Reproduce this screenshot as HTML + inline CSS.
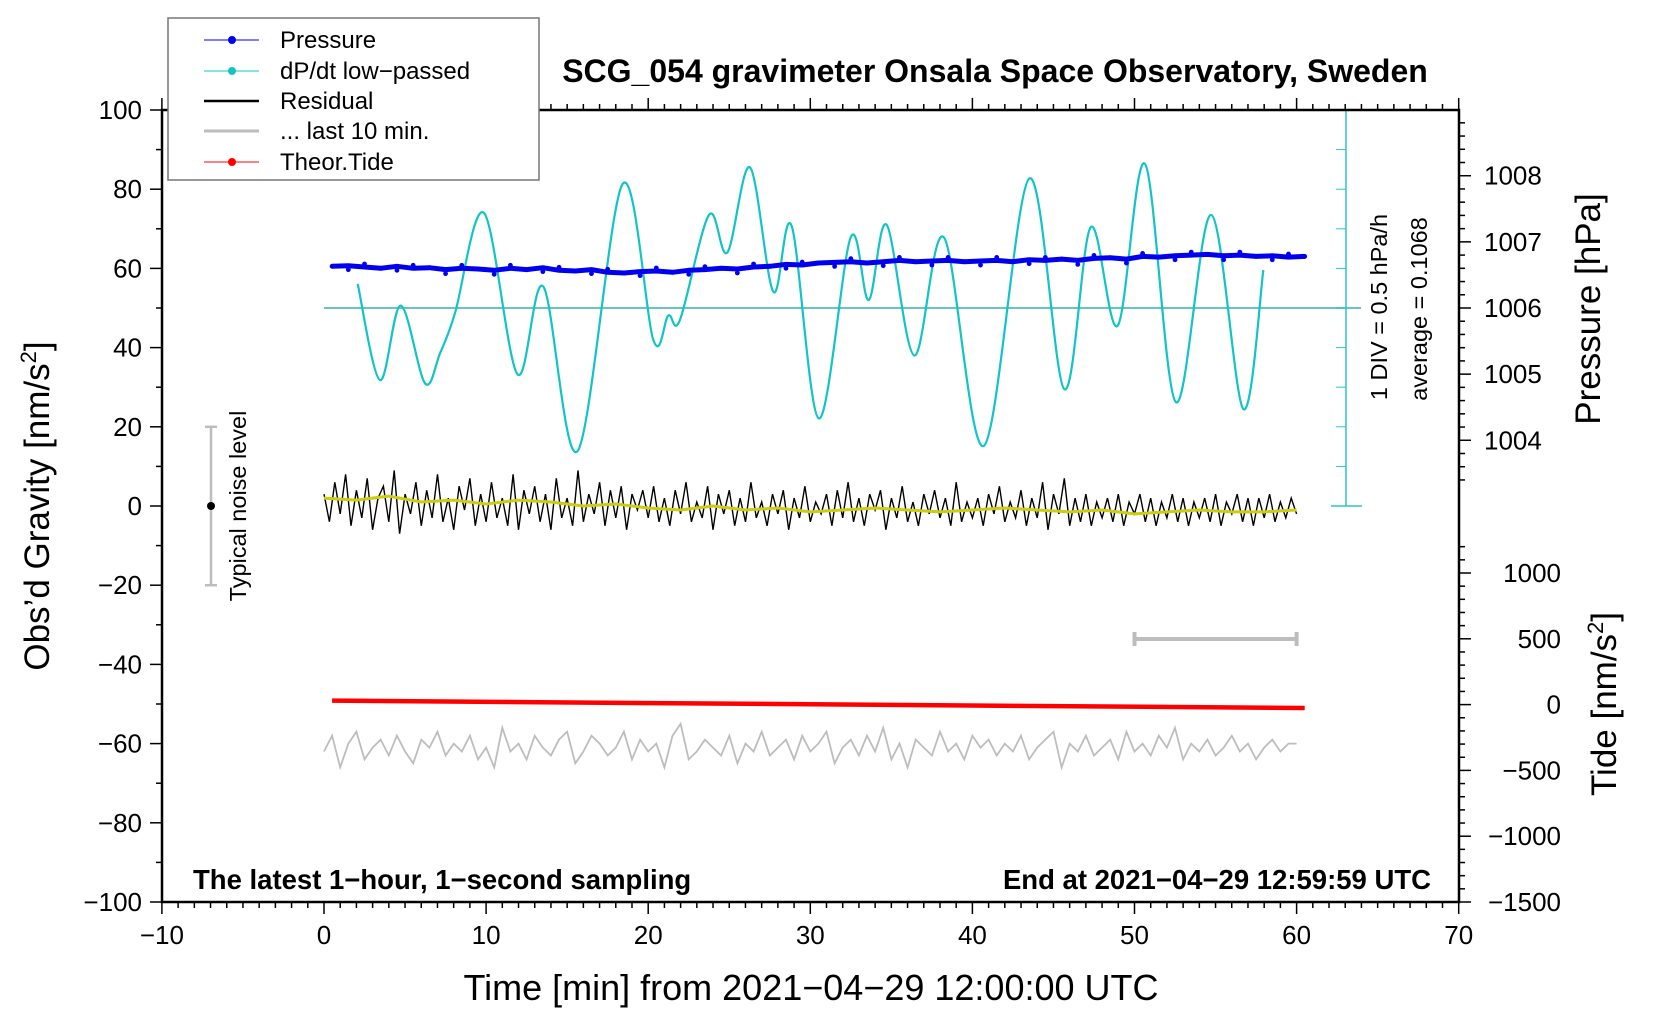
<!DOCTYPE html>
<html><head><meta charset="utf-8"><style>
html,body{margin:0;padding:0;background:#fff}
svg{display:block;font-family:"Liberation Sans",Arial,sans-serif}
</style></head><body>
<svg id="chart" width="1660" height="1020" viewBox="0 0 1660 1020" xmlns="http://www.w3.org/2000/svg">
<g id="layer"></g>
</svg>
<script>
// ---------- data ----------
const cyanT = [2.08,3.45,4.73,6.23,7.16,8.08,9.87,11.93,13.53,15.65,18.42,20.32,21.24,21.96,23.75,24.88,26.28,27.72,28.85,30.54,32.49,33.6,34.71,36.42,38.25,40.71,43.51,45.67,47.3,48.96,50.65,52.56,54.72,56.71,57.95];
const cyanG = [56.1,31.8,50.6,31.0,38.6,48.7,74.0,33.3,55.4,13.9,81.3,41.9,48.1,47.0,73.5,64.0,85.5,54.1,70.7,22.1,67.8,52,71.0,38.0,67.8,15.2,82.7,29.5,70.4,45.5,86.4,26.2,73.5,24.5,59.6];
const pressureHpa = [1006.63,1006.64,1006.62,1006.6,1006.63,1006.6,1006.61,1006.58,1006.6,1006.59,1006.57,1006.6,1006.58,1006.61,1006.57,1006.56,1006.58,1006.54,1006.53,1006.55,1006.56,1006.54,1006.57,1006.58,1006.6,1006.59,1006.62,1006.63,1006.66,1006.65,1006.68,1006.69,1006.7,1006.68,1006.7,1006.72,1006.7,1006.71,1006.72,1006.7,1006.71,1006.72,1006.7,1006.73,1006.72,1006.74,1006.72,1006.75,1006.76,1006.74,1006.78,1006.77,1006.79,1006.8,1006.81,1006.79,1006.8,1006.78,1006.79,1006.77,1006.78];
const residual = [3,-4,6,-2,8,-5,4,-3,7,-6,2,5,-4,9,-7,3,-2,6,-5,4,-3,8,-4,2,-6,5,-1,7,-5,3,-4,6,-3,2,-5,8,-6,4,-2,5,-4,3,-6,7,-3,2,-5,9,-4,3,-2,6,-5,4,-3,5,-6,3,-1,4,
-3,5,-4,2,-5,4,-2,6,-4,1,-3,5,-6,3,-2,4,-5,2,-4,6,-3,1,-5,3,-2,4,-6,2,-3,5,-4,1,-2,3,-5,4,-3,6,-4,2,-5,3,-1,4,-6,2,-3,5,-4,1,-5,3,-2,4,-3,2,-5,6,-4,1,
-3,2,-5,3,-2,5,-4,1,-3,4,-5,2,-3,6,-6,3,-2,7,-5,2,-4,3,-5,1,-3,2,-4,3,-5,1,-2,3,-4,2,-5,1,-3,3,-4,2,-5,1,-3,2,-4,3,-5,1,-2,3,-4,2,-5,2,-3,3,-4,1,-3,2,-2];
const smoothRes = [2,1.5,2.5,1,1.5,0.5,1.5,1,0,0.5,-0.5,-1,0,-1,-0.5,-1.5,-1,-0.5,-1,-1.5,-1,-0.5,-1,-1.5,-1,-2,-1.5,-1,-1.5,-1.5,-1];
const lastTen = [-62,-58,-66,-60,-57,-64,-61,-59,-63,-58,-62,-65,-59,-61,-57,-63,-60,-62,-58,-64,-61,-66,-56,-62,-60,-64,-58,-61,-63,-59,-57,-65,-62,-58,-60,-63,-61,-57,-64,-59,-62,-60,-66,-58,-55,-64,-62,-59,-61,-63,-58,-65,-60,-62,-57,-63,-61,-59,-64,-58,-62,-60,-57,-65,-61,-59,-63,-58,-62,-56,-64,-60,-66,-59,-61,-63,-57,-62,-60,-64,-58,-61,-59,-63,-60,-62,-58,-64,-61,-59,-57,-66,-60,-62,-58,-63,-61,-59,-64,-57,-62,-60,-63,-58,-61,-56,-64,-60,-62,-59,-63,-61,-58,-62,-60,-64,-61,-59,-62,-60,-60];
const tideT = [0.5,60.5];
const tideV = [30,-26];
const xTicks = [-10,0,10,20,30,40,50,60,70];
const yTicks = [100,80,60,40,20,0,-20,-40,-60,-80,-100];
const pTicks = [1004,1005,1006,1007,1008];
const tTicks = [1000,500,0,-500,-1000,-1500];

// ---------- scales ----------
const X = t => 324 + t*16.21;
const Y = g => 110 + (100-g)*3.96;
const YP = p => Y(50 + (p-1006)*16.7);
const YT = v => 704.6 - v*0.1316;
const NS = 'http://www.w3.org/2000/svg';
const layer = document.getElementById('layer');
function mk(tag, attrs, parent){
  const e = document.createElementNS(NS, tag);
  for (const k in attrs) e.setAttribute(k, attrs[k]);
  (parent||layer).appendChild(e); return e;
}
const fmt = v => String(v).replace('-', '\u2212');
function smoothPath(pts){
  let d = 'M'+pts[0][0]+','+pts[0][1];
  for (let i=0;i<pts.length-1;i++){
    const p0=pts[Math.max(0,i-1)], p1=pts[i], p2=pts[i+1], p3=pts[Math.min(pts.length-1,i+2)];
    const c1=[p1[0]+(p2[0]-p0[0])/6, p1[1]+(p2[1]-p0[1])/6];
    const c2=[p2[0]-(p3[0]-p1[0])/6, p2[1]-(p3[1]-p1[1])/6];
    d += ' C'+c1[0]+','+c1[1]+' '+c2[0]+','+c2[1]+' '+p2[0]+','+p2[1];
  }
  return d;
}
const poly = arr => arr.map(p=>p[0].toFixed(1)+','+p[1].toFixed(1)).join(' ');

// ---------- cyan dP/dt reference axis ----------
let e;
e = mk('line',{x1:X(0),y1:Y(50),x2:1361,y2:Y(50),stroke:'#6cc4c0','stroke-width':2});


e = mk('g',{});


mk('line',{x1:1346,y1:Y(100),x2:1346,y2:Y(0),stroke:'#2ec4c4','stroke-width':1.5},e);
mk('line',{x1:1331,y1:Y(0),x2:1362,y2:Y(0),stroke:'#2ec4c4','stroke-width':1.5},e);
mk('line',{x1:1331,y1:Y(100),x2:1362,y2:Y(100),stroke:'#2ec4c4','stroke-width':1.5},e);
for (let g=10; g<100; g+=10) mk('line',{x1:1336,y1:Y(g),x2:1346,y2:Y(g),stroke:'#2ec4c4','stroke-width':1},e);

// ---------- series ----------
const cyanPts = cyanT.map((t,i)=>[X(t),Y(cyanG[i])]);
e = mk('path',{d:smoothPath(cyanPts),fill:'none',stroke:'#12c4c4','stroke-width':2.2});



const pPts = pressureHpa.map((p,i)=>[X(0.5+i*60/(pressureHpa.length-1)), YP(p)]);
e = mk('polyline',{points:poly(pPts),fill:'none',stroke:'#0000ee','stroke-width':5,'stroke-linejoin':'round'});


pressureHpa.forEach((p,i)=>{
  const d = mk('circle',{cx:X(0.5+i*60/(pressureHpa.length-1)),cy:YP(p)+(i%3===1?4:(i%3===2?-3:0)),r:2.4,fill:'#0000ee'});
  
  
});

const rPts = residual.map((v,i)=>[X(i*60/(residual.length-1)), Y(v)]);
e = mk('polyline',{points:poly(rPts),fill:'none',stroke:'#000','stroke-width':1.4});


const sPts = smoothRes.map((v,i)=>[X(i*60/(smoothRes.length-1)), Y(v)]);
e = mk('polyline',{points:poly(sPts),fill:'none',stroke:'#cccc10','stroke-width':3});



const gPts = lastTen.map((v,i)=>[X(i*60/(lastTen.length-1)), Y(v)]);
e = mk('polyline',{points:poly(gPts),fill:'none',stroke:'#bdbdbd','stroke-width':1.8});



e = mk('line',{x1:X(tideT[0]),y1:YT(tideV[0]),x2:X(tideT[1]),y2:YT(tideV[1]),stroke:'#ff0000','stroke-width':4.5});



// scale bar last 10 min
e = mk('g',{stroke:'#bdbdbd','stroke-width':4});


mk('line',{x1:X(50),y1:639,x2:X(60),y2:639},e);
mk('line',{x1:X(50),y1:632,x2:X(50),y2:646},e);
mk('line',{x1:X(60),y1:632,x2:X(60),y2:646},e);

// noise bar
e = mk('g',{});


mk('line',{x1:211,y1:Y(20),x2:211,y2:Y(-20),stroke:'#bdbdbd','stroke-width':2.5},e);
mk('line',{x1:205,y1:Y(20),x2:217,y2:Y(20),stroke:'#bdbdbd','stroke-width':2.5},e);
mk('line',{x1:205,y1:Y(-20),x2:217,y2:Y(-20),stroke:'#bdbdbd','stroke-width':2.5},e);
mk('circle',{cx:211,cy:Y(0),r:4,fill:'#000'},e);

// ---------- axes frame & ticks ----------
e = mk('rect',{x:162,y:110,width:1297,height:792,fill:'none',stroke:'#000','stroke-width':2.5});


const tk = mk('g',{stroke:'#000','stroke-width':1.5});


for (let t=-10;t<=70;t++){
  const big = t%10===0;
  mk('line',{x1:X(t),y1:902,x2:X(t),y2:902+(big?12:6)},tk);
  mk('line',{x1:X(t),y1:110,x2:X(t),y2:110-(big?12:6)},tk);
}
for (let g=-100; g<=100; g+=10){
  const big = g%20===0;
  mk('line',{x1:162,y1:Y(g),x2:162-(big?12:6),y2:Y(g)},tk);
}
for (let v=-1500; v<=1200; v+=100){
  const y = YT(v); if (y<110) continue;
  mk('line',{x1:1459,y1:y,x2:1459+(v%500===0?12:6),y2:y},tk);
}
for (let p=1003.4; p<=1009.5; p+=0.2){
  const y = YP(p); if (y<110||y>YT(1200)) continue;
  const big = Math.abs(p-Math.round(p))<0.01;
  mk('line',{x1:1459,y1:y,x2:1459+(big?12:6),y2:y},tk);
}

// tick labels
xTicks.forEach(t=>{
  const l = mk('text',{x:X(t),y:944,'text-anchor':'middle','font-size':26});
  l.textContent = fmt(t);
  
  
});
yTicks.forEach(g=>{
  const l = mk('text',{x:142,y:Y(g)+9,'text-anchor':'end','font-size':26});
  l.textContent = fmt(g);
  
  
});
pTicks.forEach(p=>{
  const l = mk('text',{x:1484,y:YP(p)+9,'text-anchor':'start','font-size':26});
  l.textContent = fmt(p);
  
  
});
tTicks.forEach(v=>{
  const l = mk('text',{x:1561,y:YT(v)+9,'text-anchor':'end','font-size':26});
  l.textContent = fmt(v);
  
  
});
</script>
<svg width="1660" height="1020" style="position:absolute;left:0;top:0" xmlns="http://www.w3.org/2000/svg">
  <text x="995" y="82" text-anchor="middle" font-size="32" font-weight="bold">SCG_054 gravimeter Onsala Space Observatory, Sweden</text>
  <text x="193" y="889" font-size="27.5" font-weight="bold">The latest 1−hour, 1−second sampling</text>
  <text x="1431" y="889" text-anchor="end" font-size="27.5" font-weight="bold">End at 2021−04−29 12:59:59 UTC</text>
  <text x="811" y="1000" text-anchor="middle" font-size="36">Time [min] from 2021−04−29 12:00:00 UTC</text>
  <text transform="translate(49,506) rotate(-90)" text-anchor="middle" font-size="35">Obs’d Gravity [nm/s<tspan font-size="22" dy="-13">2</tspan><tspan dy="13">]</tspan></text>
  <text transform="translate(1600,309) rotate(-90)" text-anchor="middle" font-size="35">Pressure [hPa]</text>
  <text transform="translate(1616,704) rotate(-90)" text-anchor="middle" font-size="35">Tide [nm/s<tspan font-size="22" dy="-13">2</tspan><tspan dy="13">]</tspan></text>
  <text transform="translate(1387,307) rotate(-90)" text-anchor="middle" font-size="23.5">1 DIV = 0.5 hPa/h</text>
  <text transform="translate(1427,309) rotate(-90)" text-anchor="middle" font-size="23.5">average = 0.1068</text>
  <text transform="translate(246,506) rotate(-90)" text-anchor="middle" font-size="23.5">Typical noise level</text>
  <g>
    <rect x="168" y="18" width="371" height="162" fill="#fff" stroke="#777" stroke-width="1.5"/>
    <g>
      <line x1="204" y1="40" x2="259" y2="40" stroke="#0000ee" stroke-width="1"/><circle cx="232" cy="40" r="4" fill="#0000ee"/>
      <text x="280" y="48" font-size="24">Pressure</text></g>
    <g>
      <line x1="204" y1="71" x2="259" y2="71" stroke="#12c4c4" stroke-width="1"/><circle cx="232" cy="71" r="4" fill="#12c4c4"/>
      <text x="280" y="79" font-size="24">dP/dt low−passed</text></g>
    <g>
      <line x1="204" y1="101" x2="259" y2="101" stroke="#000" stroke-width="2.5"/>
      <text x="280" y="109" font-size="24">Residual</text></g>
    <g>
      <line x1="204" y1="131" x2="259" y2="131" stroke="#bdbdbd" stroke-width="3"/>
      <text x="280" y="139" font-size="24">... last 10 min.</text></g>
    <g>
      <line x1="204" y1="162" x2="259" y2="162" stroke="#ff0000" stroke-width="1"/><circle cx="232" cy="162" r="4" fill="#ff0000"/>
      <text x="280" y="170" font-size="24">Theor.Tide</text></g>
  </g>
</svg>
</body></html>
